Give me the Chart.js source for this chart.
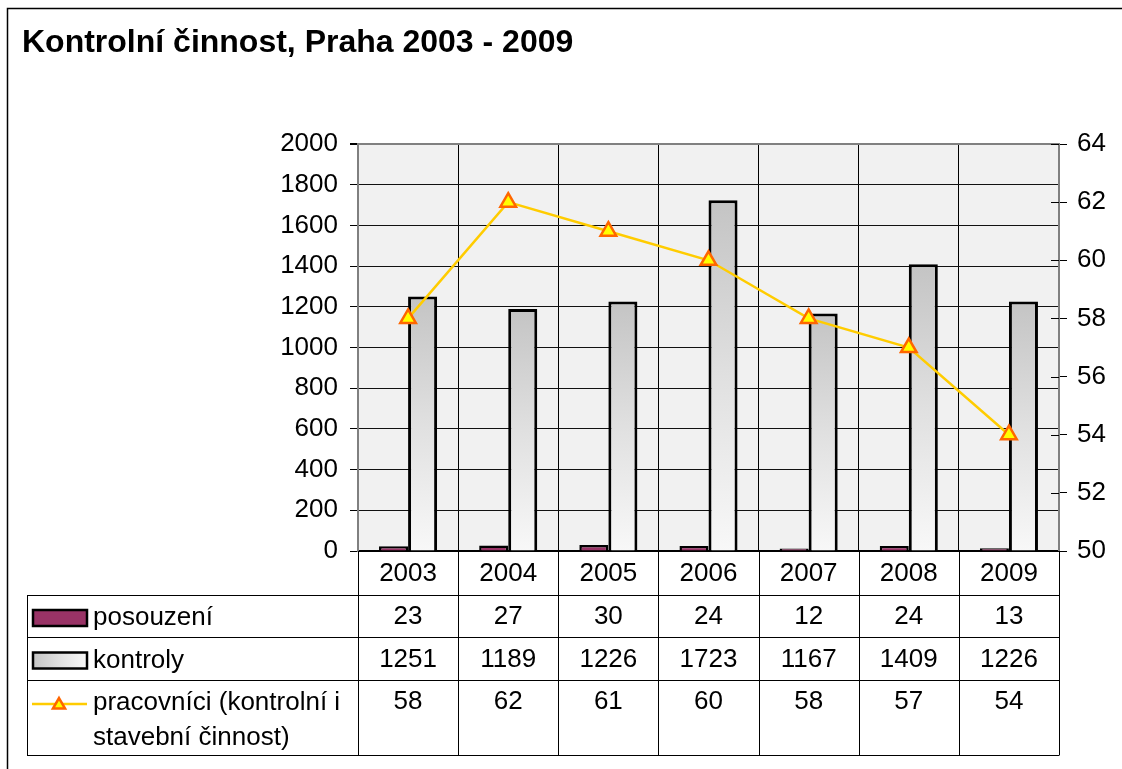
<!DOCTYPE html>
<html>
<head>
<meta charset="utf-8">
<title>Kontrolní činnost, Praha 2003 - 2009</title>
<script src="https://cdn.jsdelivr.net/npm/chart.js@4.4.0/dist/chart.umd.min.js"></script>
<style>
  html, body { margin: 0; padding: 0; background: #fff; }
  #wrap { width: 1122px; height: 769px; position: relative; }
</style>
</head>
<body>
<div id="wrap"><canvas id="chart"></canvas></div>
<script>
  // Data
  const years = ['2003', '2004', '2005', '2006', '2007', '2008', '2009'];
  const posouzeni = [23, 27, 30, 24, 12, 24, 13];
  const kontroly = [1251, 1189, 1226, 1723, 1167, 1409, 1226];
  const pracovnici = [58, 62, 61, 60, 58, 57, 54];
  const seriesLabels = [['posouzení'], ['kontroly'], ['pracovníci (kontrolní i', 'stavební činnost)']];

  const FONT = "'Liberation Sans', Arial, sans-serif";
  const TXT = 26;
  const BAR_PCT = 0.58;

  // grey -> white fill, used for kontroly (bars vertical, legend key horizontal)
  function greyGradient(c, x0, y0, x1, y1) {
    const g = c.createLinearGradient(x0, y0, x1, y1);
    g.addColorStop(0, '#c4c4c4');
    g.addColorStop(0.5, '#e0e0e0');
    g.addColorStop(1, '#f8f8f8');
    return g;
  }

  function kontrolyFill(context) {
    const chart = context.chart;
    const ys = chart.scales.y;
    if (!ys || context.dataIndex == null) return '#d8d8d8';
    const top = ys.getPixelForValue(kontroly[context.dataIndex]);
    const bottom = ys.getPixelForValue(0);
    if (!isFinite(top) || !isFinite(bottom) || bottom <= top) return '#d8d8d8';
    return greyGradient(chart.ctx, 0, top, 0, bottom);
  }

  function drawTriangle(c, x, y, r) {
    c.beginPath();
    for (let i = 0; i < 3; i++) {
      const a = -Math.PI / 2 + i * 2 * Math.PI / 3;
      const px = x + Math.cos(a) * r, py = y + Math.sin(a) * r;
      if (i === 0) c.moveTo(px, py); else c.lineTo(px, py);
    }
    c.closePath();
    c.fillStyle = '#ffff00';
    c.fill();
    c.lineWidth = 2.5;
    c.strokeStyle = '#ff6600';
    c.stroke();
  }

  // plot background
  const plotBackground = {
    id: 'plotBackground',
    beforeDraw(chart) {
      const { ctx, chartArea: a } = chart;
      ctx.save();
      ctx.fillStyle = '#f1f1f1';
      ctx.fillRect(a.left, a.top, a.right - a.left, a.bottom - a.top);
      ctx.restore();
    }
  };

  // data table with legend keys under the plot, plus the outer frame
  const dataTable = {
    id: 'dataTable',
    afterDraw(chart) {
      const { ctx, chartArea: a } = chart;
      const xs = chart.scales.x;
      const catW = xs.width / years.length;
      const b = a.bottom;
      const rows = [b, b + 44, b + 86, b + 129, b + 204];
      const tableLeft = 27;

      ctx.save();
      // outer frame
      ctx.strokeStyle = '#000';
      ctx.lineWidth = 1.5;
      ctx.beginPath();
      ctx.moveTo(7.5, 769);
      ctx.lineTo(7.5, 8.5);
      ctx.lineTo(1122, 8.5);
      ctx.stroke();

      // right axis tick marks reaching into the plot
      const y1 = chart.scales.y1;
      ctx.lineWidth = 1;
      ctx.strokeStyle = '#000';
      ctx.beginPath();
      y1.ticks.forEach(t => {
        const py = Math.round(y1.getPixelForValue(t.value)) + 0.5;
        ctx.moveTo(a.right - 8, py);
        ctx.lineTo(a.right, py);
      });
      ctx.stroke();

      // grid of the table
      ctx.beginPath();
      for (let r = 1; r < rows.length; r++) {
        const y = Math.round(rows[r]) + 0.5;
        ctx.moveTo(tableLeft, y);
        ctx.lineTo(xs.right, y);
      }
      ctx.moveTo(tableLeft + 0.5, rows[1]);
      ctx.lineTo(tableLeft + 0.5, rows[4] + 0.5);
      for (let i = 0; i <= years.length; i++) {
        const x = Math.round(xs.left + i * catW) + 0.5;
        ctx.moveTo(x, rows[0]);
        ctx.lineTo(x, rows[4] + 0.5);
      }
      ctx.stroke();

      // text
      ctx.fillStyle = '#000';
      ctx.font = TXT + 'px ' + FONT;
      ctx.textAlign = 'center';
      ctx.textBaseline = 'middle';
      years.forEach((yr, i) => {
        const cx = xs.getPixelForValue(i);
        ctx.fillText(yr, cx, (rows[0] + rows[1]) / 2 + 1);
        ctx.fillText(String(posouzeni[i]), cx, (rows[1] + rows[2]) / 2 + 1);
        ctx.fillText(String(kontroly[i]), cx, (rows[2] + rows[3]) / 2 + 1);
        ctx.fillText(String(pracovnici[i]), cx, rows[3] + 22);
      });

      // row labels
      ctx.textAlign = 'left';
      const labelX = 93;
      ctx.fillText(seriesLabels[0][0], labelX, (rows[1] + rows[2]) / 2 + 2);
      ctx.fillText(seriesLabels[1][0], labelX, (rows[2] + rows[3]) / 2 + 2);
      seriesLabels[2].forEach((line, k) => {
        ctx.fillText(line, labelX, rows[3] + 23 + k * 35);
      });

      // legend keys
      const ky0 = (rows[1] + rows[2]) / 2 - 6;
      ctx.fillStyle = '#993366';
      ctx.fillRect(33, ky0, 54, 16);
      ctx.lineWidth = 2.5;
      ctx.strokeStyle = '#000';
      ctx.strokeRect(33, ky0, 54, 16);

      const ky1 = (rows[2] + rows[3]) / 2 - 6;
      ctx.fillStyle = greyGradient(ctx, 33, 0, 87, 0);
      ctx.fillRect(33, ky1, 54, 16);
      ctx.strokeRect(33, ky1, 54, 16);

      const ly = rows[3] + 24;
      ctx.strokeStyle = '#ffcc00';
      ctx.lineWidth = 2.5;
      ctx.beginPath();
      ctx.moveTo(32, ly);
      ctx.lineTo(87, ly);
      ctx.stroke();
      drawTriangle(ctx, 59, ly + 1, 7);
      ctx.restore();
    }
  };

  const ctx = document.getElementById('chart').getContext('2d');
  const chart = new Chart(ctx, {
    data: {
      labels: years,
      datasets: [
        {
          type: 'line',
          label: 'pracovníci (kontrolní i stavební činnost)',
          data: pracovnici,
          yAxisID: 'y1',
          order: 0,
          borderColor: '#ffcc00',
          borderWidth: 2.5,
          tension: 0,
          pointStyle: 'triangle',
          pointRadius: 9,
          pointHoverRadius: 9,
          pointBackgroundColor: '#ffff00',
          pointBorderColor: '#ff6600',
          pointBorderWidth: 2.5
        },
        {
          type: 'bar',
          label: 'posouzení',
          data: posouzeni,
          yAxisID: 'y',
          order: 1,
          backgroundColor: '#993366',
          borderColor: '#000',
          borderWidth: 2.5,
          categoryPercentage: BAR_PCT,
          barPercentage: 1
        },
        {
          type: 'bar',
          label: 'kontroly',
          data: kontroly,
          yAxisID: 'y',
          order: 2,
          backgroundColor: kontrolyFill,
          borderColor: '#000',
          borderWidth: 3,
          categoryPercentage: BAR_PCT,
          barPercentage: 1
        }
      ]
    },
    options: {
      responsive: true,
      maintainAspectRatio: false,
      animation: false,
      layout: { padding: { left: 22, right: 0, top: 0, bottom: 0 } },
      plugins: {
        legend: { display: false },
        tooltip: { enabled: false },
        title: {
          display: true,
          text: 'Kontrolní činnost, Praha 2003 - 2009',
          align: 'start',
          color: '#000',
          font: { family: FONT, size: 32, weight: 'bold', lineHeight: 1.2 },
          padding: { top: 24, bottom: 81.6 }
        }
      },
      scales: {
        x: {
          type: 'category',
          offset: true,
          ticks: { display: false },
          grid: { color: '#000', lineWidth: 1, drawTicks: false, offset: true },
          border: { display: true, color: '#000', width: 2 },
          afterFit(scale) { scale.height = 218; }
        },
        y: {
          position: 'left',
          min: 0,
          max: 2000,
          ticks: {
            stepSize: 200,
            color: '#000',
            font: { family: FONT, size: TXT },
            padding: 12,
            callback: v => String(v)
          },
          grid: {
            color: c => (c.tick && c.tick.value === 2000 ? '#808080' : '#111'),
            lineWidth: c => (c.tick && c.tick.value === 2000 ? 2 : 1),
            tickLength: 8,
            tickColor: '#000'
          },
          border: { display: true, color: '#808080', width: 2 },
          afterFit(scale) { scale.width = 336; }
        },
        y1: {
          position: 'right',
          min: 50,
          max: 64,
          ticks: { stepSize: 2, color: '#000', font: { family: FONT, size: TXT }, padding: 10 },
          grid: { drawOnChartArea: false, tickLength: 8, tickColor: '#000' },
          border: { display: true, color: '#808080', width: 2 },
          afterFit(scale) { scale.width = 63; }
        }
      }
    },
    plugins: [plotBackground, dataTable]
  });
</script>
</body>
</html>
